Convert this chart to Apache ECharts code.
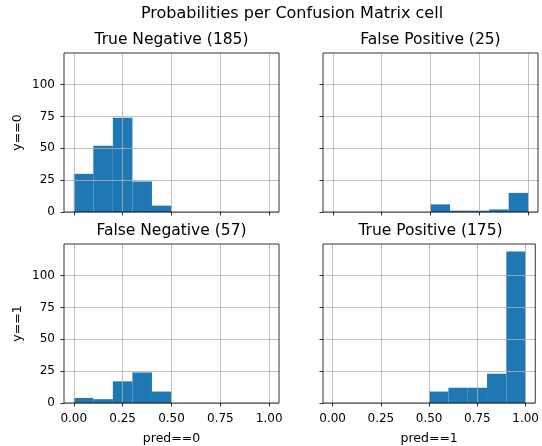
<!DOCTYPE html>
<html><head><meta charset="utf-8">
<script src="https://cdn.jsdelivr.net/npm/echarts@6/dist/echarts.min.js"></script>
<style>html,body{margin:0;padding:0;background:#fff}#c{width:542px;height:446px}</style>
</head><body><div id="c"></div>
<script>
// Histogram bin edges (10 bins of width 0.1)
const binEdges = [0, 0.1, 0.2, 0.3, 0.4, 0.5, 0.6, 0.7, 0.8, 0.9, 1.0];
// Counts per bin for each confusion-matrix cell
const tnCounts = [30, 52, 74, 24, 5, 0, 0, 0, 0, 0];
const fpCounts = [0, 0, 0, 0, 0, 6, 1, 1, 2, 15];
const fnCounts = [4, 3, 17, 24, 9, 0, 0, 0, 0, 0];
const tpCounts = [0, 0, 0, 0, 0, 9, 12, 12, 23, 119];
const panelTitles = ['True Negative (185)', 'False Positive (25)', 'False Negative (57)', 'True Positive (175)'];
const xTicks = [0, 0.25, 0.5, 0.75, 1.0];
const yTicks = [0, 25, 50, 75, 100];
const rowNames = ['y==0', 'y==1'];
const colNames = ['pred==0', 'pred==1'];
const mainTitle = 'Probabilities per Confusion Matrix cell';

const FONT = 'DejaVu Sans';
const allCounts = [tnCounts, fpCounts, fnCounts, tpCounts];
const yMax = Math.max(...allCounts.flat()) * 1.05;

const layout = [
  {left: 64, top: 53}, {left: 323, top: 53},
  {left: 64, top: 244}, {left: 323, top: 244}
];
const W = 215, H = 159;

const grids = [], xAxes = [], yAxes = [], series = [], titles = [];
titles.push({text: mainTitle, left: 292, top: 6, textAlign: 'center', padding: 0,
  textStyle: {fontFamily: FONT, fontSize: 16, fontWeight: 'normal', color: '#000'}});

allCounts.forEach((counts, i) => {
  const row = Math.floor(i / 2), col = i % 2;
  const L = layout[i];
  grids.push({left: L.left, top: L.top, width: W, height: H, show: true,
    borderColor: '#000', borderWidth: 0.8, z: 6, backgroundColor: 'transparent'});
  titles.push({text: panelTitles[i], left: L.left + W / 2, top: L.top - 21, textAlign: 'center', padding: 0,
    textStyle: {fontFamily: FONT, fontSize: 15.5, fontWeight: 'normal', color: '#000'}});
  xAxes.push({
    type: 'value', gridIndex: i, min: -0.05, max: 1.05, z: 5,
    name: row === 1 ? colNames[col] : '', nameLocation: 'middle', nameGap: 29,
    nameTextStyle: {fontFamily: FONT, fontSize: 12.5, color: '#000'},
    axisLine: {show: false, onZero: false},
    axisTick: {show: true, length: 3.5, customValues: xTicks, lineStyle: {color: '#000', width: 0.8}},
    axisLabel: {show: row === 1, customValues: xTicks, margin: 10, fontFamily: FONT, fontSize: 12, color: '#000',
      formatter: v => v.toFixed(2)},
    splitLine: {show: true, lineStyle: {color: '#b0b0b0', width: 0.8}}
  });
  yAxes.push({
    type: 'value', gridIndex: i, min: 0, max: yMax, z: 5,
    name: col === 0 ? rowNames[row] : '', nameLocation: 'middle', nameGap: 40, nameRotate: 90,
    nameTextStyle: {fontFamily: FONT, fontSize: 12.5, color: '#000'},
    axisLine: {show: false, onZero: false},
    axisTick: {show: true, length: 3.5, customValues: yTicks, lineStyle: {color: '#000', width: 0.8}},
    axisLabel: {show: col === 0, customValues: yTicks, margin: 9, fontFamily: FONT, fontSize: 12, color: '#000'},
    splitLine: {show: true, lineStyle: {color: '#b0b0b0', width: 0.8}}
  });
  const data = [];
  counts.forEach((c, k) => { if (c > 0) data.push([binEdges[k], binEdges[k + 1], c]); });
  series.push({
    type: 'custom', xAxisIndex: i, yAxisIndex: i, z: 2,
    encode: {x: [0, 1], y: 2},
    data: data,
    renderItem: (params, api) => {
      const p0 = api.coord([api.value(0), api.value(2)]);
      const p1 = api.coord([api.value(1), 0]);
      return {type: 'rect', shape: {x: p0[0], y: p0[1], width: p1[0] - p0[0], height: p1[1] - p0[1]},
        style: {fill: '#1f77b4'}};
    }
  });
});

const chart = echarts.init(document.getElementById('c'), null, {renderer: 'canvas'});
chart.setOption({
  animation: false, backgroundColor: '#fff',
  title: titles, grid: grids, xAxis: xAxes, yAxis: yAxes, series: series
});
</script></body></html>
